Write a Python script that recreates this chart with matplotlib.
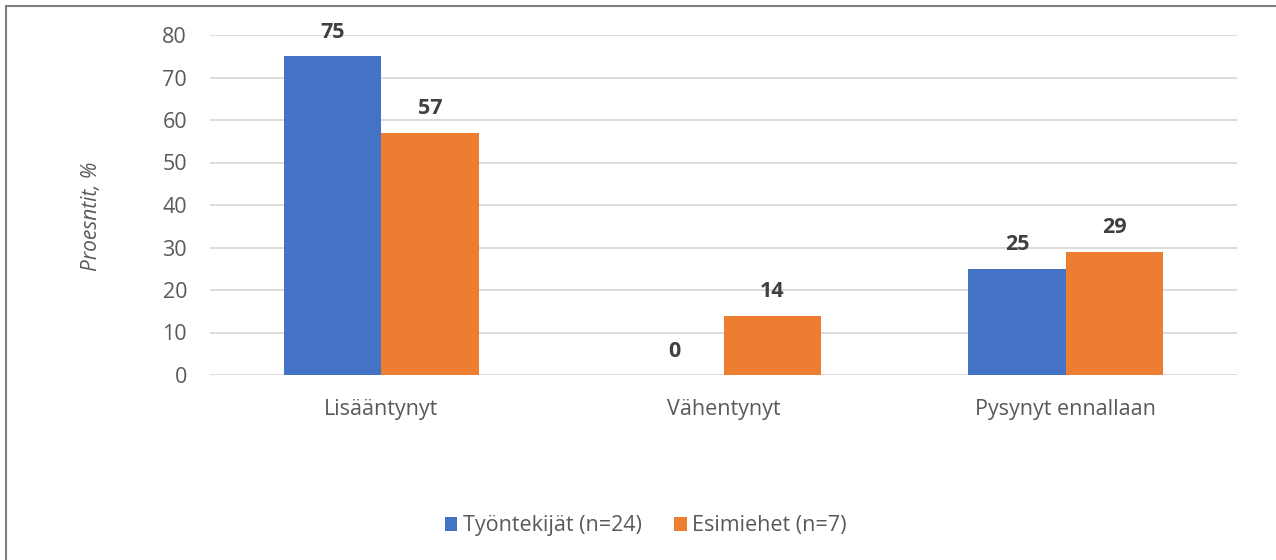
import numpy as np
import matplotlib.pyplot as plt
from matplotlib.patches import Rectangle

categories = ["Lisääntynyt", "Vähentynyt", "Pysynyt ennallaan"]
tyontekijat = [75, 0, 25]
esimiehet = [57, 14, 29]
series_names = ["Työntekijät (n=24)", "Esimiehet (n=7)"]

blue = "#4472C4"
orange = "#ED7D31"
text_col = "#595959"

plt.rcParams["font.family"] = ["Open Sans", "DejaVu Sans"]

fig = plt.figure(figsize=(12.76, 5.6), dpi=100)
ax = fig.add_axes([210 / 1276, 1 - 375 / 560, (1237 - 210) / 1276, 340 / 560])

x = np.arange(len(categories))
w = 0.285
b1 = ax.bar(x - w / 2, tyontekijat, w, color=blue, label=series_names[0], zorder=3)
b2 = ax.bar(x + w / 2, esimiehet, w, color=orange, label=series_names[1], zorder=3)

for bars in (b1, b2):
    for rect in bars:
        h = rect.get_height()
        ax.text(rect.get_x() + rect.get_width() / 2, h + 5.6, f"{h:.0f}",
                ha="center", va="center", fontsize=15.5, fontweight="bold",
                color="#404040")

ax.set_xlim(-0.5, 2.5)
ax.set_ylim(0, 80)
ax.set_yticks(range(0, 81, 10))
ax.set_xticks(x)
ax.set_xticklabels(categories)
ax.yaxis.grid(True, color="#D9D9D9", linewidth=1.3, zorder=0)
ax.set_axisbelow(True)
for s in ax.spines.values():
    s.set_visible(False)
ax.tick_params(length=0, labelsize=15.5, colors=text_col)
ax.tick_params(axis="y", pad=16.5)
ax.tick_params(axis="x", pad=17)

fig.text(92 / 1276, 1 - 216 / 560, "Proesntit, %", rotation=90, style="italic",
         fontsize=15, color=text_col, ha="center", va="center")

fig.legend(loc="center", bbox_to_anchor=(0.506, 1 - 526 / 560), ncol=2,
           frameon=False, fontsize=15.5, labelcolor=text_col,
           handlelength=0.6, handleheight=0.6, handletextpad=0.25,
           columnspacing=1.5)

fig.patches.append(Rectangle((6 / 1276, -0.1), 2, 1 - 6 / 560 + 0.1,
                             transform=fig.transFigure, fill=False,
                             edgecolor="#808080", linewidth=1.5))

fig.savefig("out.png", dpi=100)
